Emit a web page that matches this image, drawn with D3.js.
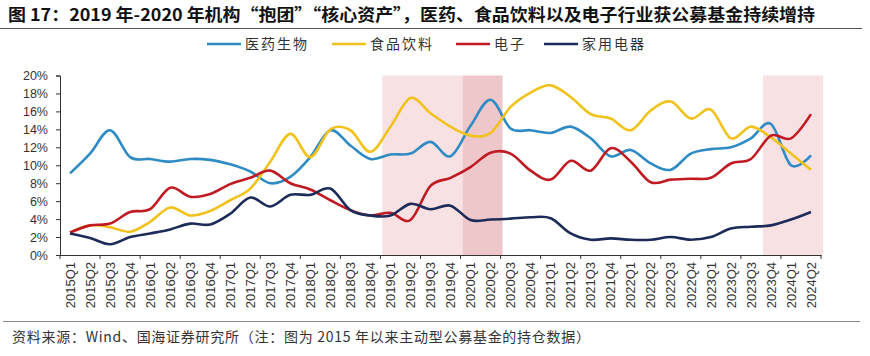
<!DOCTYPE html>
<html><head><meta charset="utf-8">
<script src="https://cdn.jsdelivr.net/npm/d3@7"></script>
<style>body{margin:0;background:#fff}svg{display:block}</style>
</head><body><svg id="c" width="870" height="356"></svg>
<script>
const quarters = [];
for (let y = 2015; y <= 2024; y++) for (let q = 1; q <= 4; q++) { if (y === 2024 && q > 2) break; quarters.push(y + "Q" + q); }
const seriesNames = ["医药生物", "食品饮料", "电子", "家用电器"];
const pharma = [9.1, 11.3, 13.9, 10.9, 10.7, 10.4, 10.7, 10.6, 10.1, 9.3, 8.0, 8.7, 10.9, 13.9, 12.2, 10.7, 11.2, 11.3, 12.6, 11.0, 14.4, 17.3, 14.1, 13.9, 13.6, 14.3, 13.0, 11.0, 11.7, 10.2, 9.5, 11.3, 11.8, 12.0, 13.0, 14.6, 10.0, 11.1];
const food = [2.5, 3.3, 3.1, 2.6, 3.7, 5.3, 4.4, 4.9, 6.1, 7.4, 10.4, 13.5, 10.9, 14.0, 13.9, 11.5, 14.3, 17.5, 15.8, 14.3, 13.3, 13.6, 16.5, 18.1, 18.9, 17.6, 15.7, 15.2, 13.9, 16.1, 17.1, 15.2, 16.2, 13.0, 14.3, 13.1, 11.3, 9.5];
const electronics = [2.5, 3.3, 3.5, 4.8, 5.1, 7.5, 6.5, 6.8, 7.9, 8.6, 9.4, 8.0, 7.3, 6.1, 5.0, 4.4, 4.7, 3.9, 7.7, 8.6, 9.8, 11.4, 11.3, 9.4, 8.4, 10.5, 9.4, 11.9, 10.4, 8.1, 8.4, 8.5, 8.6, 10.2, 10.7, 13.3, 13.0, 15.7];
const appliances = [2.4, 1.9, 1.2, 2.0, 2.4, 2.85, 3.5, 3.4, 4.6, 6.4, 5.4, 6.7, 6.7, 7.4, 5.0, 4.4, 4.4, 5.7, 5.1, 5.5, 3.9, 3.95, 4.05, 4.2, 4.1, 2.4, 1.7, 1.85, 1.7, 1.7, 2.0, 1.7, 2.0, 2.95, 3.15, 3.3, 3.95, 4.8];
const yTicks = [0, 2, 4, 6, 8, 10, 12, 14, 16, 18, 20];
const lightShades = [["2019Q1", "2019Q4"], ["2023Q4", "2024Q2"]];
const darkShades = [["2020Q1", "2020Q2"]];
const titleText = "图 17：2019 年-2020 年机构“抱团”“核心资产”，医药、食品饮料以及电子行业获公募基金持续增持";
const sourceText = "资料来源：Wind、国海证券研究所（注：图为 2015 年以来主动型公募基金的持仓数据）";
const colors = ["#2F8BC4", "#F1C21B", "#C01A23", "#1C2B58"];

const svg = d3.select("#c");
const cjk = "'Noto Sans CJK SC','Liberation Sans',sans-serif";
const x = d3.scaleBand().domain(quarters).range([60, 821]).padding(0);
const y = d3.scaleLinear().domain([0, 20]).range([255, 75.5]);

// title
svg.append("text").attr("x", 8).attr("y", 21).attr("font-family", cjk).attr("font-weight", "bold")
  .attr("font-size", 16.5).attr("fill", "#111").attr("textLength", 807).attr("lengthAdjust", "spacingAndGlyphs").text(titleText);
svg.append("line").attr("x1", 0).attr("x2", 862).attr("y1", 28.5).attr("y2", 28.5).attr("stroke", "#555").attr("stroke-width", 1.2);

// shading
function shade(ranges, color) {
  svg.append("g").selectAll("rect").data(ranges).join("rect")
    .attr("x", d => x(d[0]) + 2).attr("width", d => x(d[1]) + x.bandwidth() - x(d[0]))
    .attr("y", y(20)).attr("height", y(0) - y(20)).attr("fill", color);
}
shade(lightShades, "#F8E1E3");
shade(darkShades, "#EEC7CB");

// axes
const yAxis = svg.append("g").attr("transform", "translate(60,0)")
  .call(d3.axisLeft(y).tickValues(yTicks).tickFormat(d => d + "%").tickSize(4).tickPadding(8));
yAxis.select(".domain").attr("stroke", "#333");
yAxis.selectAll(".tick line").attr("stroke", "#333");
yAxis.selectAll("text").attr("font-family", "'Liberation Sans',Arial,sans-serif").attr("font-size", 12.5).attr("fill", "#333");

const xAxis = svg.append("g").attr("transform", "translate(0,255)")
  .call(d3.axisBottom(x).tickSize(0).tickPadding(0));
xAxis.select(".domain").attr("stroke", "#333");
xAxis.selectAll(".tick text")
  .attr("transform", "rotate(-90)").attr("text-anchor", "end")
  .attr("x", -7).attr("y", 0).attr("dy", "0.36em")
  .attr("font-family", "'Liberation Sans',Arial,sans-serif").attr("font-size", 13).attr("fill", "#333");
const bounds = d3.range(0, quarters.length + 1, 2).map(i => 60 + i * x.step());
svg.append("g").selectAll("line").data(bounds).join("line")
  .attr("x1", d => d).attr("x2", d => d).attr("y1", 255).attr("y2", 259).attr("stroke", "#333");

// lines
const allSeries = [pharma, food, electronics, appliances];
const line = d3.line().x((d, i) => x(quarters[i]) + x.bandwidth() / 2).y(d => y(d)).curve(d3.curveCardinal.tension(0));
svg.append("g").selectAll("path").data(allSeries).join("path")
  .attr("d", d => line(d)).attr("fill", "none").attr("stroke", (d, i) => colors[i])
  .attr("stroke-width", 2.6).attr("stroke-linejoin", "round");

// legend
const legendPos = [207, 332, 456, 544];
const lg = svg.append("g").selectAll("g").data(seriesNames).join("g")
  .attr("transform", (d, i) => `translate(${legendPos[i]},44)`);
lg.append("line").attr("x1", 0).attr("x2", 34).attr("stroke", (d, i) => colors[i]).attr("stroke-width", 2.6);
lg.append("text").attr("x", 38).attr("dy", "0.36em").attr("font-family", cjk).attr("font-size", 14)
  .attr("letter-spacing", 2).attr("fill", "#333").text(d => d);

// source
svg.append("line").attr("x1", 3).attr("x2", 860).attr("y1", 321.5).attr("y2", 321.5).attr("stroke", "#888").attr("stroke-width", 1);
svg.append("text").attr("x", 12).attr("y", 342).attr("font-family", cjk).attr("font-size", 14)
  .attr("fill", "#333").attr("textLength", 578).attr("lengthAdjust", "spacing").text(sourceText);
</script></body></html>
